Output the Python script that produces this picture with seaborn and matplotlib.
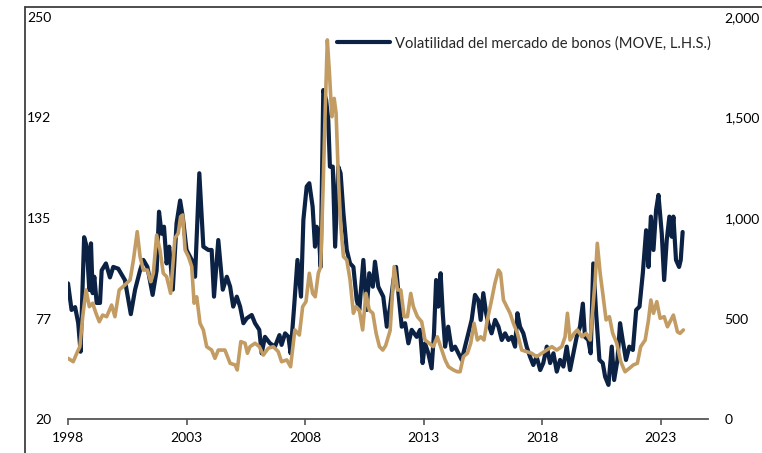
import matplotlib
matplotlib.use("Agg")
import matplotlib.pyplot as plt
from matplotlib.lines import Line2D
import numpy as np
import pandas as pd
import seaborn as sns

# MOVE index (left axis)
move_year = [1998.00, 1998.15, 1998.30, 1998.43, 1998.53, 1998.68, 1998.79, 1998.90, 1998.97, 1999.04,
             1999.11, 1999.21, 1999.35, 1999.42, 1999.60, 1999.77, 1999.91, 2000.12, 2000.40, 2000.65,
             2000.83, 2001.04, 2001.18, 2001.35, 2001.57, 2001.74, 2001.84, 2001.95, 2002.05, 2002.16,
             2002.27, 2002.42, 2002.58, 2002.73, 2002.84, 2003.00, 2003.22, 2003.36, 2003.54, 2003.71,
             2003.92, 2004.06, 2004.16, 2004.34, 2004.53, 2004.70, 2004.84, 2004.97, 2005.12, 2005.26,
             2005.40, 2005.54, 2005.75, 2005.89, 2006.07, 2006.17, 2006.31, 2006.52, 2006.73, 2006.92,
             2007.01, 2007.16, 2007.30, 2007.39, 2007.54, 2007.68, 2007.83, 2007.93, 2008.07, 2008.18,
             2008.32, 2008.42, 2008.49, 2008.58, 2008.66, 2008.77, 2008.89, 2008.98, 2009.05, 2009.17,
             2009.27, 2009.40, 2009.50, 2009.62, 2009.76, 2009.90, 2010.04, 2010.18, 2010.29, 2010.46,
             2010.60, 2010.71, 2010.86, 2010.95, 2011.09, 2011.30, 2011.45, 2011.59, 2011.73, 2011.84,
             2011.94, 2012.08, 2012.22, 2012.36, 2012.50, 2012.71, 2012.85, 2012.96, 2013.06, 2013.20,
             2013.34, 2013.44, 2013.53, 2013.62, 2013.72, 2013.81, 2013.91, 2014.04, 2014.19, 2014.33,
             2014.47, 2014.61, 2014.75, 2014.89, 2015.03, 2015.17, 2015.31, 2015.41, 2015.52, 2015.64,
             2015.73, 2015.87, 2016.02, 2016.16, 2016.30, 2016.44, 2016.58, 2016.72, 2016.86, 2016.96,
             2017.07, 2017.21, 2017.35, 2017.49, 2017.63, 2017.77, 2017.92, 2018.05, 2018.20, 2018.34,
             2018.48, 2018.62, 2018.76, 2018.90, 2019.04, 2019.18, 2019.32, 2019.46, 2019.60, 2019.72,
             2019.81, 2019.95, 2020.05, 2020.16, 2020.28, 2020.42, 2020.56, 2020.66, 2020.80, 2020.94,
             2021.04, 2021.18, 2021.29, 2021.40, 2021.54, 2021.68, 2021.83, 2021.97, 2022.11, 2022.25,
             2022.39, 2022.49, 2022.59, 2022.70, 2022.81, 2022.91, 2023.05, 2023.15, 2023.26, 2023.37,
             2023.47, 2023.54, 2023.65, 2023.78, 2023.85, 2023.93]
move_value = [97.6, 82.4, 84.0, 75.0, 58.5, 124.0, 118.6, 93.8, 120.5, 92.0,
              101.4, 86.4, 86.4, 105.0, 109.0, 101.0, 107.0, 106.0, 99.5, 80.0,
              94.0, 105.0, 111.0, 107.0, 91.0, 105.0, 138.6, 126.0, 130.0, 109.0,
              118.6, 94.0, 132.0, 145.0, 135.8, 116.7, 111.0, 101.4, 160.6, 118.6,
              116.7, 116.7, 90.0, 122.4, 94.0, 101.4, 95.7, 84.3, 90.0, 84.3,
              74.8, 77.6, 79.5, 74.8, 71.0, 57.6, 67.0, 63.3, 61.4, 68.0,
              62.4, 69.0, 67.0, 57.6, 84.3, 111.0, 90.0, 133.9, 153.0, 154.9,
              141.5, 118.6, 130.0, 126.0, 107.0, 208.2, 202.5, 191.0, 164.4, 164.4,
              118.6, 164.4, 160.6, 137.7, 116.7, 109.0, 107.0, 88.0, 82.4, 111.0,
              82.4, 103.4, 95.7, 110.0, 95.7, 90.0, 72.8, 84.3, 99.5, 107.0,
              92.0, 72.8, 74.8, 63.3, 71.0, 67.0, 71.0, 52.0, 63.3, 57.6,
              49.0, 69.0, 99.5, 84.3, 103.4, 80.5, 61.4, 72.8, 59.5, 61.4,
              57.6, 53.8, 61.4, 69.0, 76.7, 91.0, 88.0, 76.7, 92.0, 80.5,
              74.8, 69.0, 76.7, 72.8, 65.2, 69.0, 65.2, 67.0, 61.4, 80.5,
              72.8, 69.0, 61.4, 55.7, 50.9, 55.7, 48.0, 52.0, 61.4, 52.0,
              57.6, 47.1, 53.8, 50.0, 61.4, 48.0, 57.6, 67.0, 72.8, 86.0,
              67.0, 65.2, 57.6, 109.0, 80.5, 53.8, 52.0, 44.2, 39.5, 61.4,
              42.3, 53.8, 74.8, 65.2, 53.8, 61.4, 59.5, 82.4, 84.3, 103.4,
              128.0, 107.0, 135.8, 116.7, 139.6, 148.2, 126.0, 99.5, 122.4, 135.8,
              124.3, 135.8, 111.0, 107.0, 111.0, 127.0]

# second series (right axis)
spread_year = [1998.00, 1998.22, 1998.37, 1998.50, 1998.62, 1998.76, 1998.90, 1999.04, 1999.18, 1999.32,
               1999.46, 1999.63, 1999.84, 1999.98, 2000.16, 2000.40, 2000.62, 2000.76, 2000.92, 2001.04,
               2001.18, 2001.35, 2001.49, 2001.60, 2001.74, 2001.88, 2002.02, 2002.16, 2002.33, 2002.51,
               2002.65, 2002.75, 2002.84, 2002.94, 2003.08, 2003.22, 2003.32, 2003.43, 2003.57, 2003.71,
               2003.85, 2004.06, 2004.20, 2004.34, 2004.62, 2004.84, 2005.05, 2005.14, 2005.29, 2005.47,
               2005.57, 2005.68, 2005.89, 2006.07, 2006.24, 2006.45, 2006.66, 2006.87, 2007.01, 2007.23,
               2007.39, 2007.57, 2007.76, 2007.90, 2008.04, 2008.18, 2008.32, 2008.43, 2008.56, 2008.66,
               2008.77, 2008.86, 2008.94, 2009.03, 2009.13, 2009.23, 2009.31, 2009.41, 2009.51, 2009.62,
               2009.76, 2009.90, 2010.04, 2010.15, 2010.29, 2010.43, 2010.57, 2010.71, 2010.86, 2011.00,
               2011.14, 2011.28, 2011.40, 2011.59, 2011.76, 2011.90, 2012.04, 2012.18, 2012.32, 2012.46,
               2012.57, 2012.74, 2012.92, 2013.06, 2013.24, 2013.41, 2013.58, 2013.72, 2013.91, 2014.05,
               2014.26, 2014.43, 2014.54, 2014.68, 2014.85, 2014.99, 2015.13, 2015.27, 2015.41, 2015.55,
               2015.69, 2015.87, 2016.01, 2016.16, 2016.25, 2016.37, 2016.51, 2016.65, 2016.79, 2016.96,
               2017.14, 2017.35, 2017.56, 2017.77, 2017.99, 2018.20, 2018.41, 2018.62, 2018.83, 2018.97,
               2019.07, 2019.18, 2019.35, 2019.49, 2019.68, 2019.86, 2020.03, 2020.24, 2020.33, 2020.45,
               2020.56, 2020.70, 2020.84, 2020.98, 2021.15, 2021.32, 2021.50, 2021.68, 2021.85, 2022.02,
               2022.16, 2022.35, 2022.49, 2022.59, 2022.70, 2022.84, 2022.98, 2023.15, 2023.29, 2023.47,
               2023.54, 2023.71, 2023.82, 2023.96]
spread_value = [302, 285, 327, 360, 509, 642, 559, 576, 526, 484,
                517, 509, 567, 509, 642, 667, 692, 791, 932, 808,
                741, 741, 683, 725, 915, 841, 725, 708, 625, 899,
                924, 1006, 1015, 841, 808, 758, 576, 608, 476, 443,
                360, 343, 302, 343, 343, 277, 269, 244, 385, 377,
                327, 360, 377, 360, 318, 352, 360, 335, 285, 294,
                260, 443, 418, 559, 584, 725, 625, 608, 725, 758,
                1189, 1571, 1886, 1720, 1504, 1595, 1521, 1189, 957, 808,
                791, 692, 526, 559, 542, 443, 625, 542, 526, 426,
                360, 343, 365, 440, 758, 642, 642, 509, 509, 625,
                559, 509, 484, 393, 377, 360, 409, 360, 294, 260,
                244, 235, 235, 310, 327, 377, 476, 393, 409, 393,
                493, 592, 675, 741, 725, 592, 559, 526, 476, 426,
                343, 335, 327, 310, 327, 343, 360, 343, 360, 409,
                526, 393, 426, 443, 409, 426, 393, 692, 874, 725,
                625, 493, 509, 426, 377, 285, 235, 252, 269, 277,
                360, 393, 493, 592, 526, 584, 501, 509, 459, 501,
                517, 434, 426, 443]

left_ticks = [20, 77.5, 135, 192.5, 250]
left_labels = ["20", "77", "135", "192", "250"]
right_ticks = [0, 500, 1000, 1500, 2000]
right_labels = ["0", "500", "1,000", "1,500", "2,000"]
year_ticks = [1998, 2003, 2008, 2013, 2018, 2023]

legend_label = "Volatilidad del mercado de bonos (MOVE, L.H.S.)"

navy = "#0b2244"
gold = "#c29c62"

sns.set_theme(style="white")
plt.rcParams["font.family"] = ["Lato", "DejaVu Sans"]

move_df = pd.DataFrame({"year": move_year, "value": move_value})
spread_df = pd.DataFrame({"year": spread_year, "value": spread_value})

fig = plt.figure(figsize=(7.62, 4.53), dpi=100)
ax = fig.add_axes([68 / 762, 34 / 453, 640 / 762, 402 / 453])
ax2 = ax.twinx()

sns.lineplot(data=move_df, x="year", y="value", ax=ax, color=navy, linewidth=3.0,
             label=legend_label, sort=False)
sns.lineplot(data=spread_df, x="year", y="value", ax=ax2, color=gold, linewidth=2.6,
             sort=False, legend=False)

ax.set_xlim(1998, 2025)
ax.set_ylim(20, 250)
ax2.set_ylim(0, 2000)

ax.set_xticks(year_ticks)
ax.set_xticklabels([str(y) for y in year_ticks])
ax.set_yticks(left_ticks)
ax.set_yticklabels(left_labels)
ax2.set_yticks(right_ticks)
ax2.set_yticklabels(right_labels)

for a in (ax, ax2):
    a.set_xlabel("")
    a.set_ylabel("")
    for s in ("top", "left", "right", "bottom"):
        a.spines[s].set_visible(False)
    a.grid(False)

ax.spines["bottom"].set_visible(True)
ax.spines["bottom"].set_color("#555555")
ax.spines["bottom"].set_linewidth(1.3)

ax.tick_params(axis="x", bottom=True, direction="out", length=4, width=1.2, color="#555555",
               pad=5, labelsize=10, labelcolor="black")
ax.tick_params(axis="y", left=False, length=0, pad=12, labelsize=10, labelcolor="black")
ax2.tick_params(axis="y", right=False, length=0, pad=12, labelsize=10, labelcolor="black")

ax.legend(loc="center left", bbox_to_anchor=(0.42, 0.935), frameon=False, fontsize=10.6,
          handlelength=3.6, handletextpad=0.35, borderaxespad=0, borderpad=0)

# frame of the original slide
fig.add_artist(Line2D([25 / 762, 1], [446 / 453, 446 / 453], color="#404040", linewidth=1.3))
fig.add_artist(Line2D([25 / 762, 25 / 762], [0, 446 / 453], color="#404040", linewidth=1.3))

fig.savefig("out.png", dpi=100)
